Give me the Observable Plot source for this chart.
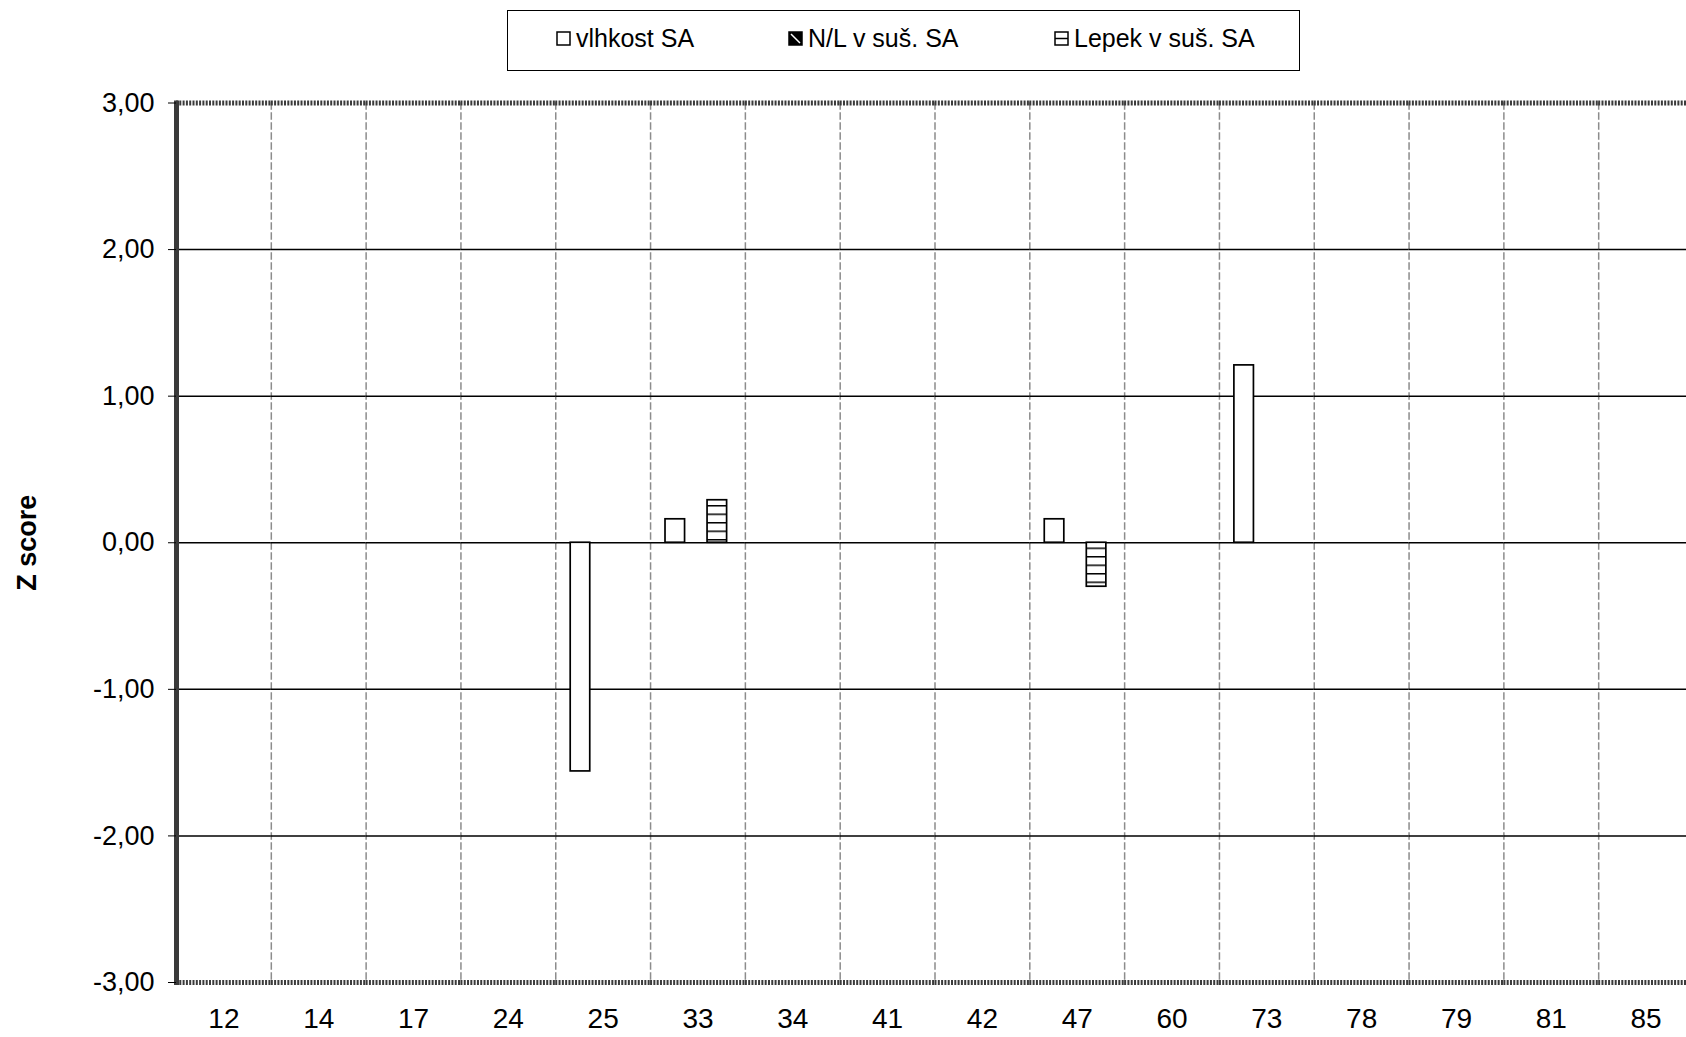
<!DOCTYPE html>
<html>
<head>
<meta charset="utf-8">
<script src="https://cdn.jsdelivr.net/npm/d3@7"></script>
<script src="https://cdn.jsdelivr.net/npm/@observablehq/plot@0.6"></script>
<style>
  html, body { margin: 0; padding: 0; background: #fff; width: 1686px; height: 1037px; overflow: hidden; }
  svg.plot { max-width: none !important; }
  #legend { position: relative; height: 80px; font-family: "Liberation Sans", Arial, sans-serif; }
  #legend .box { position: absolute; left: 507px; top: 10px; width: 793px; height: 61px; border: 1.5px solid #000; box-sizing: border-box; }
  #legend .item { position: absolute; top: 13px; display: flex; align-items: center; font-size: 25px; color: #000; white-space: nowrap; }
  #legend .item svg { margin-right: 5px; }
  #chart { position: relative; }
</style>
</head>
<body>
<svg width="0" height="0" style="position:absolute">
  <defs>
    <pattern id="hlines" patternUnits="userSpaceOnUse" width="8" height="8.5">
      <rect width="8" height="8.5" fill="#fff"></rect>
      <line x1="0" x2="8" y1="0.75" y2="0.75" stroke="#000" stroke-width="1.5"></line>
    </pattern>
    <pattern id="diag" patternUnits="userSpaceOnUse" width="4" height="4">
      <rect width="4" height="4" fill="#000"></rect>
      <line x1="0" y1="0" x2="4" y2="4" stroke="#fff" stroke-width="1"></line>
    </pattern>
  </defs>
</svg>
<div id="legend"><div class="box"></div></div>
<div id="chart"></div>
<script>
// ---- data ----
const categories = ["12", "14", "17", "24", "25", "33", "34", "41", "42", "47", "60", "73", "78", "79", "81", "85"];
const seriesNames = ["vlhkost SA", "N/L v suš. SA", "Lepek v suš. SA"];
const vlhkost = [null, null, null, null, -1.56, 0.16, null, null, null, 0.16, null, 1.21, null, null, null, null];
const nlSus   = [null, null, null, null, null, null, null, null, null, null, null, null, null, null, null, null];
const lepek   = [null, null, null, null, null, 0.29, null, null, null, -0.30, null, null, null, null, null, null];
const yTicks = [-3, -2, -1, 0, 1, 2, 3];
const yGrid = [-2, -1, 1, 2];
const yBorder = [3, -3];
const yLabel = "Z score";

// ---- tidy tables ----
const seriesValues = [vlhkost, nlSus, lepek];
const rows = categories.flatMap((c, i) =>
  seriesNames.map((s, j) => ({cat: c, series: s, value: seriesValues[j][i]}))
).filter(d => d.value != null);
const gridRows = categories.flatMap(c => yGrid.map(v => ({cat: c, v})));
const zeroRows = categories.map(c => ({cat: c, v: 0}));
const borderRows = categories.flatMap(c => yBorder.map(v => ({cat: c, v})));

const fills = {"vlhkost SA": "#fff", "N/L v suš. SA": "url(#diag)", "Lepek v suš. SA": "url(#hlines)"};

// ---- legend ----
const swatch = {
  "vlhkost SA": '<svg width="15" height="15"><rect x="1" y="1" width="13" height="13" fill="#fff" stroke="#000" stroke-width="1.5"/></svg>',
  "N/L v suš. SA": '<svg width="15" height="15"><rect x="1" y="1" width="13" height="13" fill="#000" stroke="#000" stroke-width="1.5"/><line x1="3" y1="3" x2="12" y2="12" stroke="#fff" stroke-width="1.5"/></svg>',
  "Lepek v suš. SA": '<svg width="15" height="15"><rect x="1" y="1" width="13" height="13" fill="#fff" stroke="#000" stroke-width="1.5"/><line x1="1" y1="7.5" x2="14" y2="7.5" stroke="#000" stroke-width="1.5"/></svg>'
};
const legendLeft = [48, 280, 546];
const box = document.querySelector("#legend .box");
seriesNames.forEach((s, i) => {
  const it = document.createElement("div");
  it.className = "item";
  it.style.left = legendLeft[i] + "px";
  it.innerHTML = swatch[s] + "<span>" + s + "</span>";
  box.appendChild(it);
});

// ---- chart ----
const fmt = d => d.toFixed(2).replace(".", ",");
const borderStyle = {stroke: "#3a3a3a", strokeWidth: 5, strokeDasharray: "2,1.3"};
const chart = Plot.plot({
  width: 1700,
  height: 957,
  marginLeft: 176,
  marginRight: 7,
  marginTop: 22.5,
  marginBottom: 55,
  style: {fontFamily: "Liberation Sans, Arial, sans-serif", background: "white", maxWidth: "none", overflow: "visible"},
  fx: {domain: categories, padding: 0, round: false, label: null, axis: null},
  x: {type: "band", domain: seriesNames, paddingInner: 0.07, paddingOuter: 0.79, align: 0.45, round: false, axis: null},
  y: {domain: [-3, 3], axis: null},
  marks: [
    Plot.frame({anchor: "left", stroke: "#8c8c8c", strokeWidth: 1.5, strokeDasharray: "6,4"}),
    Plot.ruleY(gridRows, {fx: "cat", y: "v", stroke: "#000", strokeWidth: 1.5}),
    Plot.ruleY(zeroRows, {fx: "cat", y: "v", stroke: "#000", strokeWidth: 1.5}),
    ...seriesNames.map(s => Plot.barY(rows.filter(d => d.series === s), {
      fx: "cat", x: "series", y: "value", fill: fills[s], stroke: "#000", strokeWidth: 1.7
    })),
    Plot.ruleY(borderRows, {fx: "cat", y: "v", ...borderStyle}),
    Plot.frame({anchor: "left", fx: () => categories[0], ...borderStyle}),
    Plot.axisY(yTicks, {anchor: "left", tickFormat: fmt, tickSize: 8, tickPadding: 14, fontSize: 27, label: null, stroke: "#000"}),
    Plot.axisY({anchor: "left", ticks: [], label: yLabel, labelArrow: "none", labelAnchor: "center", labelOffset: 160, fontWeight: "bold", fontSize: 27}),
    Plot.axisFx({anchor: "bottom", tickSize: 0, tickPadding: 26, fontSize: 28, fontFamily: "Liberation Sans Narrow, Liberation Sans, sans-serif", label: null})
  ]
});
document.getElementById("chart").appendChild(chart);
</script>
</body>
</html>
